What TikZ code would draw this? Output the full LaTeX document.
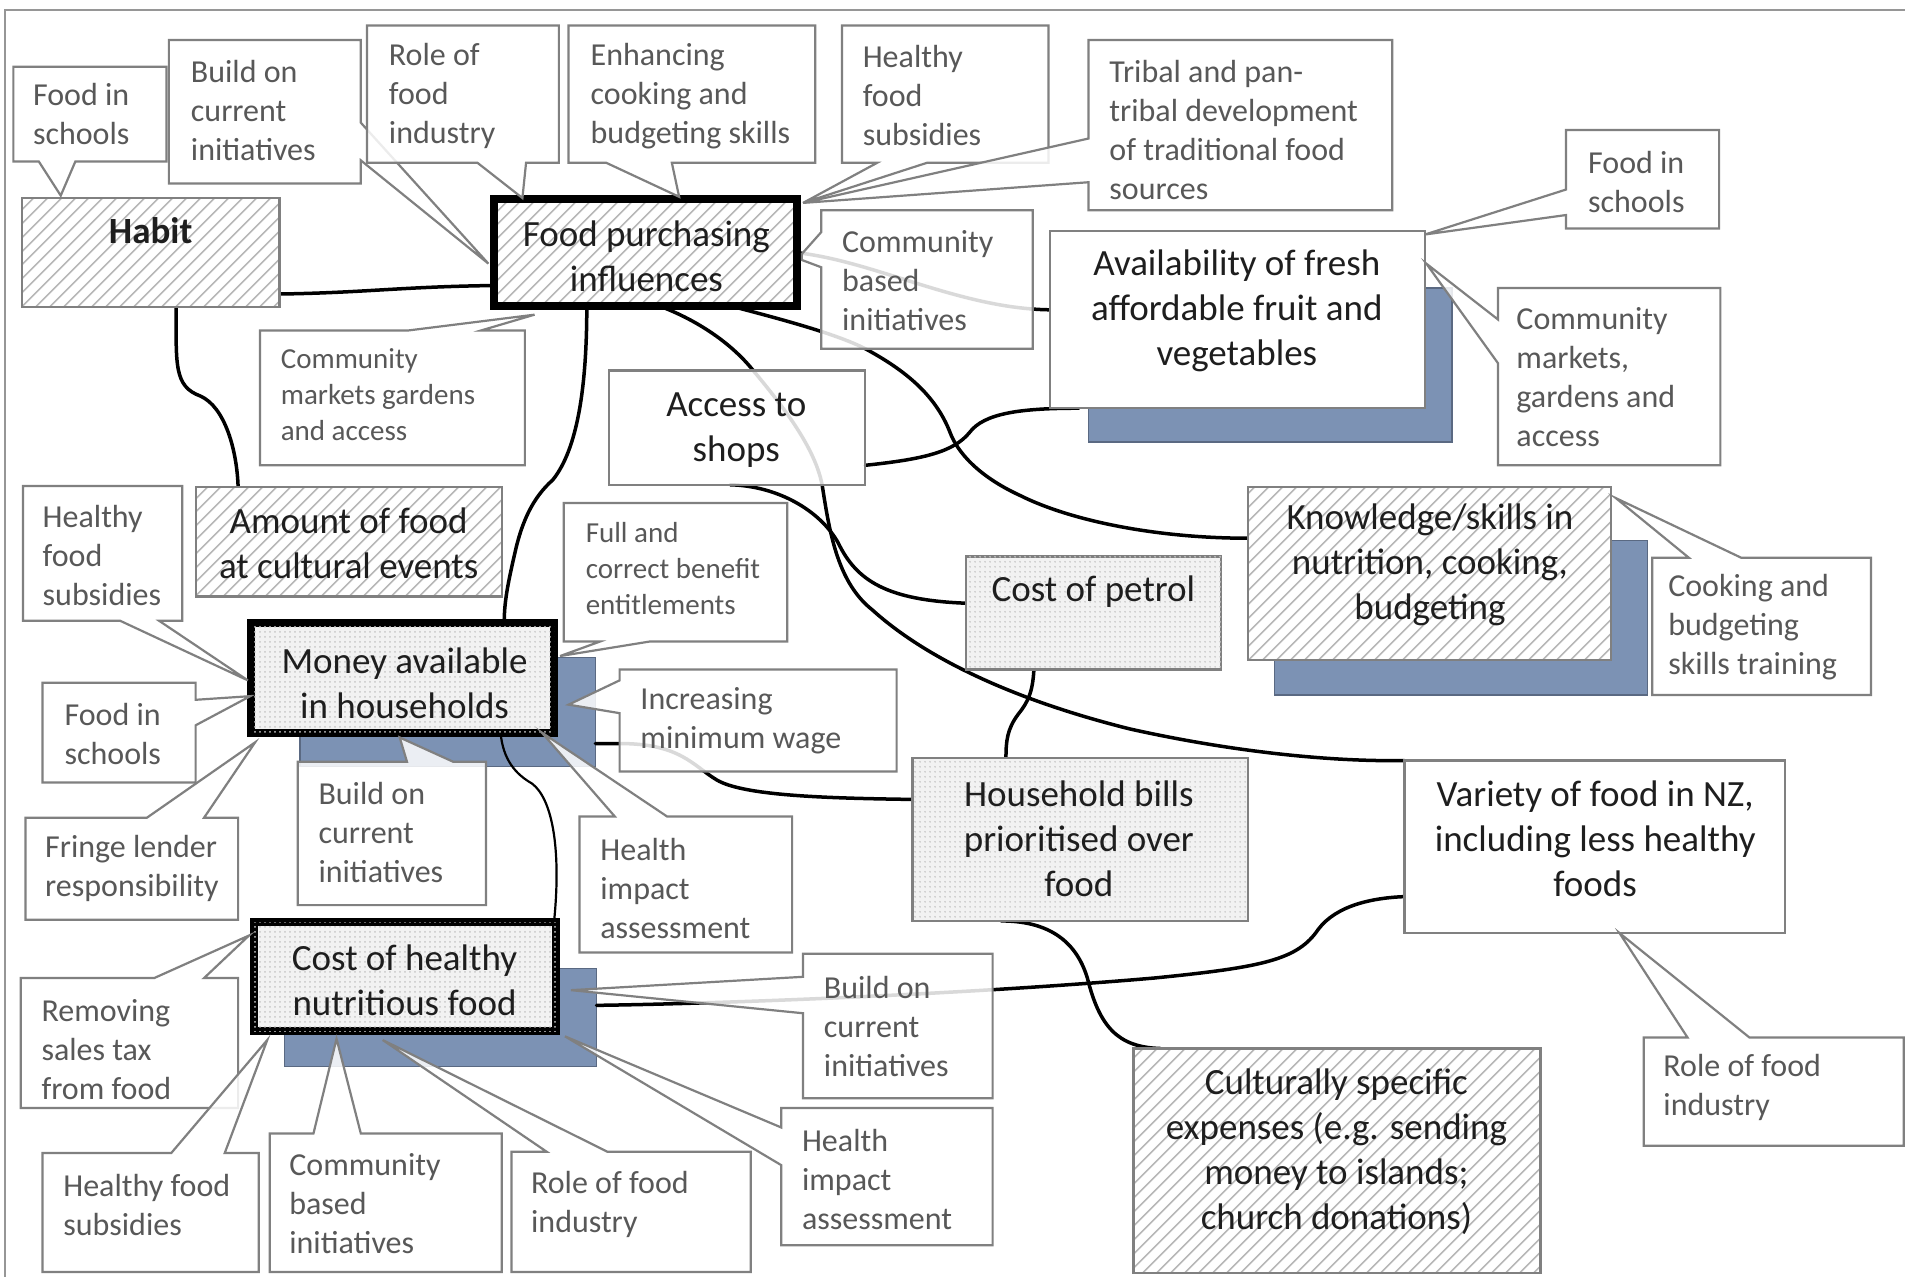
\documentclass[tikz,border=0pt]{standalone}
\usepackage{fontspec}
\setmainfont{Carlito}
\usetikzlibrary{fit,calc,patterns.meta}
\pgfdeclarelayer{shad}
\pgfdeclarelayer{lines}
\pgfsetlayers{shad,lines,main}
\definecolor{cbord}{RGB}{128,128,128}
\definecolor{ctext}{RGB}{88,88,88}
\definecolor{mtext}{RGB}{30,30,30}
\definecolor{sblue}{RGB}{124,146,180}
\definecolor{sblueedge}{RGB}{90,105,130}
\definecolor{dotbg}{RGB}{242,242,242}
\definecolor{framegray}{RGB}{150,150,150}
\tikzset{
 box/.style={inner sep=0pt, outer sep=0pt, draw=cbord, line width=2.2pt},
 hatchbox/.style={box, preaction={fill=white}, pattern={Lines[angle=45,distance=10.5pt,line width=2pt]}, pattern color=black!28},
 dotbox/.style={box, fill=dotbg, postaction={pattern={Dots[distance=5pt,radius=0.9pt]}, pattern color=black!22}},
 whitebox/.style={box, fill=white},
 heavyframe/.style={draw=black, line width=8pt},
 shadowbox/.style={inner sep=0pt, outer sep=0pt, fill=sblue, draw=sblueedge, line width=1.5pt},
 callout/.style={draw=cbord, line width=2.2pt, fill=white, fill opacity=0.85, line join=miter},
 ctxt/.style={inner sep=0pt, anchor=west, align=left, text=ctext, font=\fontsize{32}{39}\selectfont},
 csmall/.style={ctxt, font=\fontsize{29}{36}\selectfont},
 mtxt/.style={inner sep=0pt, align=center, text=mtext, font=\fontsize{37}{45}\selectfont},
 conn/.style={line width=3.5pt, black, line cap=round},
}
\begin{document}
\begin{tikzpicture}[x=1.2149pt, y=-1.2149pt]
\useasboundingbox (0,0) rectangle (1568,1051);
\draw[framegray, line width=2pt] (4,1051) -- (4,8) -- (1568,8);

% ---------- shadows ----------
\begin{pgfonlayer}{shad}
\node[shadowbox, fit={(896,237) (1195,364)}] (availsh) {};
\node[shadowbox, fit={(1049,445) (1356,572)}] (knowsh) {};
\node[shadowbox, fit={(247,541) (490,631)}] (moneysh) {};
\node[shadowbox, fit={(234,797) (491,878)}] (costsh) {};
\end{pgfonlayer}

% ---------- main boxes ----------
\node[hatchbox, fit={(18,163) (230,253)}] (habit) {};
\node[hatchbox, heavyframe, fit={(407,164) (656,252)}] (fpi) {};
\node[whitebox, fit={(864,190) (1173,336)}] (avail) {};
\node[whitebox, fill opacity=0.85, fit={(501,305) (712,399)}] (shops) {};
\node[hatchbox, fit={(161,401) (413,491)}] (amount) {};
\node[hatchbox, fit={(1027,401) (1326,543)}] (know) {};
\node[dotbox, fit={(795,458) (1005,551)}] (petrol) {};
\node[dotbox, heavyframe, fit={(207,513) (456,603)}] (money) {};
\node[dotbox, fit={(751,624) (1027,758)}] (bills) {};
\node[whitebox, fit={(1156,626) (1469,768)}] (variety) {};
\node[dotbox, heavyframe, fit={(209,759) (458,849)}] (cost) {};
\node[hatchbox, fit={(933,863) (1268,1048)}] (cultural) {};

% ---------- callouts ----------
\draw[callout] (11,55) -- (137,55) -- (137,133) -- (62,133) -- (50,161) -- (32,133) -- (11,133) -- cycle;
\draw[callout] (139,33) -- (297,33) -- (297,101) -- (402,217) -- (297,132) -- (297,151) -- (139,151) -- cycle;
\draw[callout] (302,21) -- (460,21) -- (460,134) -- (433,134) -- (430,163) -- (393,134) -- (302,134) -- cycle;
\draw[callout] (468,21) -- (671,21) -- (671,134) -- (553,134) -- (559,162) -- (499,134) -- (468,134) -- cycle;
\draw[callout] (693,21) -- (863,21) -- (863,134) -- (763,134) -- (661,167) -- (722,134) -- (693,134) -- cycle;
\draw[callout] (896,33) -- (1146,33) -- (1146,173) -- (896,173) -- (896,150) -- (661,167) -- (896,114) -- cycle;
\draw[callout] (676,173) -- (850,173) -- (850,287) -- (676,287) -- (676,220) -- (660,214) -- (660,209) -- (676,191) -- cycle;
\draw[callout] (214,272) -- (336,272) -- (440,259) -- (396,272) -- (432,272) -- (432,383) -- (214,383) -- cycle;
\draw[callout] (1289,107) -- (1415,107) -- (1415,188) -- (1289,188) -- (1289,177) -- (1173,193) -- (1289,156) -- cycle;
\draw[callout] (1233,237) -- (1416,237) -- (1416,383) -- (1233,383) -- (1233,299) -- (1174,217) -- (1233,263) -- cycle;
\draw[callout] (1360,459) -- (1390,459) -- (1330,410) -- (1433,459) -- (1540,459) -- (1540,572) -- (1360,572) -- cycle;
\draw[callout] (19,400) -- (150,400) -- (150,511) -- (131,511) -- (204,560) -- (99,511) -- (19,511) -- cycle;
\draw[callout] (35,562) -- (161,562) -- (161,576) -- (206,573) -- (161,597) -- (161,644) -- (35,644) -- cycle;
\draw[callout] (21,673) -- (121,673) -- (210,611) -- (168,673) -- (196,673) -- (196,757) -- (21,757) -- cycle;
\draw[callout] (245,627) -- (335,627) -- (329,607) -- (373,627) -- (400,627) -- (400,745) -- (245,745) -- cycle;
\draw[callout] (464,414) -- (648,414) -- (648,528) -- (535,528) -- (461,540) -- (494,528) -- (464,528) -- cycle;
\draw[callout] (510,551) -- (738,551) -- (738,635) -- (510,635) -- (510,587) -- (468,580) -- (510,560) -- cycle;
\draw[callout] (477,672) -- (506,672) -- (446,603) -- (549,672) -- (652,672) -- (652,784) -- (477,784) -- cycle;
\draw[callout] (17,805) -- (127,805) -- (205,770) -- (168,805) -- (196,805) -- (196,912) -- (17,912) -- cycle;
\draw[callout] (35,949) -- (141,949) -- (220,856) -- (185,949) -- (213,949) -- (213,1047) -- (35,1047) -- cycle;
\draw[callout] (222,933) -- (258,933) -- (277,855) -- (297,933) -- (413,933) -- (413,1047) -- (222,1047) -- cycle;
\draw[callout] (421,948) -- (450,948) -- (315,856) -- (500,948) -- (618,948) -- (618,1047) -- (421,1047) -- cycle;
\draw[callout] (661,785) -- (817,785) -- (817,904) -- (661,904) -- (661,834) -- (470,815) -- (661,804) -- cycle;
\draw[callout] (643,912) -- (817,912) -- (817,1025) -- (643,1025) -- (643,959) -- (465,853) -- (643,928) -- cycle;
\draw[callout] (1353,854) -- (1389,854) -- (1333,768) -- (1440,854) -- (1567,854) -- (1567,943) -- (1353,943) -- cycle;

% ---------- connectors ----------
\begin{pgfonlayer}{lines}
\draw[conn] ($(habit.south east)+(0,-11)$) .. controls (300,241) and (330,236) .. ($(fpi.west)+(0,27)$);
\draw[conn] ($(habit.south west)+(127,0)$) .. controls (145,300) and (143,318) .. (165,326) .. controls (185,335) and (195,370) .. ($(amount.north west)+(35,0)$);
\draw[conn] ($(fpi.south west)+(76,0)$) .. controls (483,320) and (475,370) .. (455,395) .. controls (438,410) and (430,430) .. (425,450) .. controls (418,480) and (415,495) .. ($(money.north west)+(208,0)$);
\draw[conn] ($(fpi.south west)+(136,0)$) .. controls (570,262) and (600,280) .. (620,305) .. controls (645,335) and (672,370) .. (677,401) .. controls (683,440) and (690,480) .. (718,502) .. controls (760,540) and (830,575) .. (930,600) .. controls (1020,620) and (1100,627) .. (variety.north west);
\draw[conn] ($(fpi.south west)+(195,0)$) .. controls (640,262) and (690,275) .. (714,288) .. controls (745,305) and (770,325) .. (782,356) .. controls (788,372) and (805,392) .. (840,408) .. controls (880,428) and (950,443) .. ($(know.west)+(0,-29)$);
\draw[conn] (fpi.east) .. controls (720,215) and (790,254) .. ($(avail.west)+(0,-8)$);
\draw[conn] ($(shops.east)+(0,31)$) .. controls (760,378) and (785,372) .. (798,356) .. controls (810,340) and (840,336) .. ($(avail.south west)+(24,0)$);
\draw[conn] ($(shops.south west)+(100,0)$) .. controls (640,400) and (675,420) .. (690,447) .. controls (705,478) and (730,494) .. ($(petrol.west)+(0,-8)$);
\draw[conn] ($(petrol.south west)+(56,0)$) .. controls (850,570) and (846,578) .. (838,588) .. controls (829,600) and (828,610) .. ($(bills.north west)+(77,0)$);
\draw[conn] ($(moneysh.east)+(0,26)$) -- (510,612) .. controls (560,612) and (570,630) .. (590,642) .. controls (612,655) and (680,657) .. ($(bills.west)+(0,-33)$);
\draw[conn, line width=2.2pt] ($(money.south west)+(205,0)$) .. controls (414,625) and (424,637) .. (438,645) .. controls (455,658) and (462,700) .. ($(cost.north east)+(-2,0)$);
\draw[conn] ($(costsh.east)+(0,-10)$) .. controls (600,826) and (800,818) .. (950,805) .. controls (1040,796) and (1068,790) .. (1085,765) .. controls (1100,745) and (1130,739) .. ($(variety.south west)+(0,-30)$);
\draw[conn] ($(bills.south west)+(73,0)$) .. controls (860,758) and (885,772) .. (895,805) .. controls (905,845) and (920,862) .. ($(cultural.north west)+(22,0)$);
\end{pgfonlayer}

% ---------- main texts ----------
\node[mtxt] (habit-t) at (124,190) {\bfseries Habit};
\node[mtxt] (fpi-t) at (532,211) {Food purchasing\\influences};
\node[mtxt] (avail-t) at (1018,256) {Availability of fresh\\affordable fruit and\\vegetables};
\node[mtxt] (shops-t) at (606,354) {Access to\\shops};
\node[mtxt] (amount-t) at (287,447) {Amount of food\\at cultural events};
\node[mtxt] (know-t) at (1177,465) {Knowledge/skills in\\nutrition, cooking,\\budgeting};
\node[mtxt] (petrol-t) at (900,487) {Cost of petrol};
\node[mtxt] (money-t) at (333,562) {Money available\\in households};
\node[mtxt] (bills-t) at (888,690) {Household bills\\prioritised over\\food};
\node[mtxt] (variety-t) at (1313,690) {Variety of food in NZ,\\including less healthy\\foods};
\node[mtxt] (cost-t) at (333,807) {Cost of healthy\\nutritious food};
\node[mtxt] (cultural-t) at (1100,948) {Culturally specific\\expenses (e.g. sending\\money to islands;\\church donations)};

% ---------- callout texts ----------
\node[ctxt] (t1) at (27,94) {Food in\\schools};
\node[ctxt] (t2) at (157,91) {Build on\\current\\initiatives};
\node[ctxt] (t3) at (320,79) {Role of\\food\\industry};
\node[ctxt] (t4) at (486,79) {Enhancing\\cooking and\\budgeting skills};
\node[ctxt] (t5) at (710,79) {Healthy\\food\\subsidies};
\node[ctxt] (t6) at (913,107) {Tribal and pan-\\tribal development\\of traditional food\\sources};
\node[ctxt] (t7) at (693,231) {Community\\based\\initiatives};
\node[csmall] (t8) at (231,325) {Community\\markets gardens\\and access};
\node[ctxt] (t9) at (1307,150) {Food in\\schools};
\node[ctxt] (t10) at (1248,310) {Community\\markets,\\gardens and\\access};
\node[ctxt] (t11) at (1373,516) {Cooking and\\budgeting\\skills training};
\node[ctxt] (t12) at (35,457) {Healthy\\food\\subsidies};
\node[ctxt] (t13) at (53,604) {Food in\\schools};
\node[ctxt] (t14) at (37,715) {Fringe lender\\responsibility};
\node[ctxt] (t15) at (262,685) {Build on\\current\\initiatives};
\node[csmall] (t16) at (482,468) {Full and\\correct benefit\\entitlements};
\node[ctxt] (t17) at (527,593) {Increasing\\minimum wage};
\node[ctxt] (t18) at (494,731) {Health\\impact\\assessment};
\node[ctxt] (t19) at (34,864) {Removing\\sales tax\\from food};
\node[ctxt] (t20) at (52,992) {Healthy food\\subsidies};
\node[ctxt] (t21) at (238,991) {Community\\based\\initiatives};
\node[ctxt] (t22) at (437,991) {Role of food\\industry};
\node[ctxt] (t23) at (678,845) {Build on\\current\\initiatives};
\node[ctxt] (t24) at (660,971) {Health\\impact\\assessment};
\node[ctxt] (t25) at (1369,895) {Role of food\\industry};
\end{tikzpicture}
\end{document}
